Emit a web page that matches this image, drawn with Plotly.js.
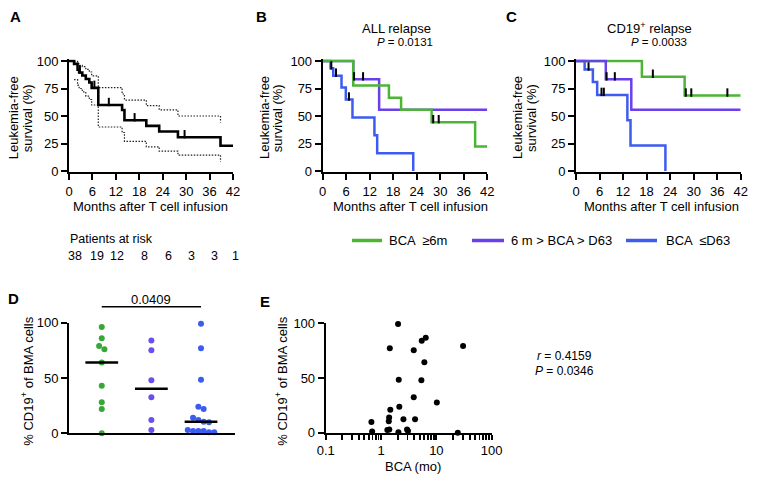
<!DOCTYPE html>
<html><head><meta charset="utf-8">
<script src="https://cdn.plot.ly/plotly-3.0.1.min.js"></script>
<style>html,body{margin:0;padding:0;background:#fff}</style>
</head><body><div id="chart" style="width:776px;height:483px"></div>
<script>
// ---------------- DATA ----------------
const monthTicks = [0, 6, 12, 18, 24, 30, 36, 42];
const survTicks = [0, 25, 50, 75, 100];
const pctTicks = [0, 50, 100];
const bcaMajorTicks = [0.1, 1, 10, 100];
const bcaMinorTicks = [0.2, 0.3, 0.4, 0.5, 0.6, 0.7, 0.8, 0.9, 2, 3, 4, 5, 6, 7, 8, 9, 20, 30, 40, 50, 60, 70, 80, 90];

// Panel A: all patients
const allTimes = [0, 1.3, 2.2, 2.6, 3.4, 4.3, 5.2, 5.8, 7.5, 13.6, 14.2, 19.8, 23.1, 27.9, 38.8];
const allSurv  = [100, 97.4, 92.1, 89.5, 86.8, 83.6, 80.4, 75.6, 60.0, 55.4, 46.1, 41.0, 35.9, 30.7, 23.0];
const allEnd = 42;
const allCensor = [2.8, 6.5, 10.2, 16.8, 29.6];
const allCITimes = [1.3, 2.2, 2.6, 3.4, 4.3, 5.2, 5.8, 7.5, 13.6, 14.2, 19.8, 23.1, 27.9, 38.8];
const allUpper   = [99.6, 97.5, 96.0, 94.8, 92.4, 90.0, 86.5, 75.8, 70.0, 64.5, 59.4, 55.5, 50.0, 44.0];
const allLower   = [83.0, 78.0, 75.0, 72.0, 68.0, 65.0, 60.0, 40.0, 35.0, 27.0, 22.0, 18.0, 14.5, 8.5];

const atRisk = [38, 19, 12, 8, 6, 3, 3, 1];

// Groups
const groupNames  = ['BCA  \u22656m', '6 m > BCA > D63', 'BCA  \u2264D63'];
const groupColors = ['#4cb534', '#6a40ec', '#3d5bef'];
const dotColors   = ['#35a835', '#6a4ff0', '#3b5cf0'];

// Panel B: ALL relapse
const bGreenTimes = [0, 7.8, 16.9, 20.0, 27.8, 38.9];
const bGreenSurv  = [100, 77.8, 66.7, 55.6, 44.4, 22.2];
const bGreenEnd = 42;
const bGreenCensor = [28.2, 29.6];
const bPurpleTimes = [0, 7.8, 14.4];
const bPurpleSurv  = [100, 83.3, 55.6];
const bPurpleEnd = 42;
const bPurpleCensor = [8.0, 10.3];
const bBlueTimes = [0, 2.0, 2.7, 4.8, 5.9, 7.6, 13.2, 13.9, 23.1];
const bBlueSurv  = [100, 93.3, 86.7, 76.0, 65.0, 48.7, 32.5, 16.2, 0];
const bBlueEnd = 23.1;
const bBlueCensor = [2.2, 3.4, 6.7];

// Panel C: CD19+ relapse
const cGreenTimes = [0, 16.8, 27.7];
const cGreenSurv  = [100, 85.7, 68.6];
const cGreenEnd = 42;
const cGreenCensor = [2.0, 7.6, 19.6, 28.0, 29.4, 38.6];
const cPurpleTimes = [0, 7.6, 14.1];
const cPurpleSurv  = [100, 83.3, 55.6];
const cPurpleEnd = 42;
const cPurpleCensor = [7.8, 9.9];
const cBlueTimes = [0, 2.2, 4.3, 5.4, 13.1, 13.9, 22.8];
const cBlueSurv  = [100, 92.3, 80.8, 69.2, 46.2, 23.1, 0];
const cBlueEnd = 22.8;
const cBlueCensor = [3.2, 6.5, 7.1];

// Panel D: % CD19+ of BMA cells by group
const dGreen  = [96, 86, 79, 76, 64, 43, 28, 22, 0];
const dPurple = [84, 75, 48, 32.5, 12, 3];
const dBlue   = [99, 77, 48.5, 24, 22, 14, 12, 10.5, 10, 3, 2, 2, 2, 1, 1];
const dPValue = '0.0409';

// Panel E: BCA (months) vs % CD19+
const eBCA  = [2.03, 1.44, 3.90, 5.44, 6.43, 30.4, 6.07, 2.09, 5.36, 3.90, 10.2, 2.14, 1.47, 1.40, 1.38, 2.54, 4.12, 0.67, 0.69, 1.30, 1.41, 2.06, 2.95, 3.07, 24.4];
const eCD19 = [99.4, 77.1, 75.3, 84.1, 86.9, 79.3, 64.3, 48.5, 47.9, 32.3, 27.7, 23.8, 21.0, 14.0, 10.4, 12.2, 12.2, 9.8, 1.2, 2.4, 3.0, 0.3, 3.0, 1.5, 0];
const eR = '0.4159', eP = '0.0346';

// ---------------- LAYOUT HELPERS ----------------
const W = 776, H = 483;
const FONT = 'Arial, "Liberation Sans", Helvetica, sans-serif';
function dom(pA, vA, pB, vB, lo, hi, total, invert) {
  const s = (pB - pA) / (vB - vA);
  const plo = pA + (lo - vA) * s, phi = pA + (hi - vA) * s;
  return invert ? [1 - plo / total, 1 - phi / total] : [plo / total, phi / total];
}
function stepAt(times, vals, t) { let v = vals[0]; for (let i = 0; i < times.length; i++) if (times[i] <= t) v = vals[i]; return v; }
function kmTrace(times, surv, end, color, xa, ya, width, dash) {
  const x = times.slice(), y = surv.slice();
  if (end > times[times.length - 1]) { x.push(end); y.push(surv[surv.length - 1]); }
  return {x, y, xaxis: xa, yaxis: ya, type: 'scatter', mode: 'lines', line: {shape: 'hv', color, width: width || 2.5, dash: dash || 'solid'}, hoverinfo: 'skip', showlegend: false};
}
const KM_PPU = 110 / 100; // pixels per % on KM plots
function censorTrace(ct, times, surv, xa, ya) {
  return {x: ct, y: ct.map(t => stepAt(times, surv, t) + 3 / KM_PPU), xaxis: xa, yaxis: ya, type: 'scatter', mode: 'markers',
    marker: {symbol: 'line-ns-open', size: 6, color: '#000', line: {width: 2, color: '#000'}}, cliponaxis: false, hoverinfo: 'skip', showlegend: false};
}
function beeswarm(vals, center, step, bin) {
  const idx = vals.map((v, i) => i).sort((a, b) => vals[b] - vals[a]);
  const xs = new Array(vals.length);
  let row = [];
  const flush = () => { row.forEach((k, j) => { xs[k] = center + (j - (row.length - 1) / 2) * step; }); row = []; };
  idx.forEach(k => { if (row.length && vals[row[0]] - vals[k] > bin) flush(); row.push(k); });
  flush();
  return xs;
}
function median(a) { const s = a.slice().sort((x, y) => x - y); const n = s.length; return n % 2 ? s[(n - 1) / 2] : (s[n / 2 - 1] + s[n / 2]) / 2; }

const traces = [];
// A
traces.push(kmTrace(allCITimes, allUpper, 0, '#222', 'x', 'y', 1.2, '1.5px,1.5px'));
traces.push(kmTrace(allCITimes, allLower, 0, '#222', 'x', 'y', 1.2, '1.5px,1.5px'));
traces.push(kmTrace(allTimes, allSurv, allEnd, '#000', 'x', 'y', 2.6));
traces.push(censorTrace(allCensor, allTimes, allSurv, 'x', 'y'));
// B
traces.push(kmTrace(bBlueTimes, bBlueSurv, bBlueEnd, groupColors[2], 'x2', 'y2'));
traces.push(kmTrace(bPurpleTimes, bPurpleSurv, bPurpleEnd, groupColors[1], 'x2', 'y2'));
traces.push(kmTrace(bGreenTimes, bGreenSurv, bGreenEnd, groupColors[0], 'x2', 'y2'));
traces.push(censorTrace(bBlueCensor, bBlueTimes, bBlueSurv, 'x2', 'y2'));
traces.push(censorTrace(bPurpleCensor, bPurpleTimes, bPurpleSurv, 'x2', 'y2'));
traces.push(censorTrace(bGreenCensor, bGreenTimes, bGreenSurv, 'x2', 'y2'));
// C
traces.push(kmTrace(cBlueTimes, cBlueSurv, cBlueEnd, groupColors[2], 'x3', 'y3'));
traces.push(kmTrace(cGreenTimes, cGreenSurv, cGreenEnd, groupColors[0], 'x3', 'y3'));
traces.push(kmTrace(cPurpleTimes, cPurpleSurv, cPurpleEnd, groupColors[1], 'x3', 'y3'));
traces.push(censorTrace(cBlueCensor, cBlueTimes, cBlueSurv, 'x3', 'y3'));
traces.push(censorTrace(cPurpleCensor, cPurpleTimes, cPurpleSurv, 'x3', 'y3'));
traces.push(censorTrace(cGreenCensor, cGreenTimes, cGreenSurv, 'x3', 'y3'));
// D
[dGreen, dPurple, dBlue].forEach((vals, g) => {
  const c = g + 1;
  traces.push({x: beeswarm(vals, c, 0.107, 5), y: vals, xaxis: 'x4', yaxis: 'y4', type: 'scatter', mode: 'markers',
    marker: {size: 6, color: dotColors[g]}, cliponaxis: false, hoverinfo: 'skip', showlegend: false});
  const m = median(vals);
  traces.push({x: [c - 0.33, c + 0.33], y: [m, m], xaxis: 'x4', yaxis: 'y4', type: 'scatter', mode: 'lines',
    line: {color: '#000', width: 2.5}, cliponaxis: false, hoverinfo: 'skip', showlegend: false});
});
// E
traces.push({x: eBCA, y: eCD19, xaxis: 'x5', yaxis: 'y5', type: 'scatter', mode: 'markers',
  marker: {size: 6, color: '#000'}, cliponaxis: false, hoverinfo: 'skip', showlegend: false});

// axes
const axBase = {showline: true, linewidth: 2, linecolor: '#000', ticks: 'outside', ticklen: 6, tickwidth: 2, tickcolor: '#000',
  showgrid: false, zeroline: false, tickfont: {family: FONT, size: 13, color: '#000'}, fixedrange: true};
const kmY = Object.assign({}, axBase, {range: [-1, 101.5], tickvals: survTicks, domain: dom(171, 0, 61, 100, -1, 101.5, H, true)});
const kmX = (p0, p1, ya) => Object.assign({}, axBase, {range: [0, 42], tickvals: monthTicks, anchor: ya, domain: [p0 / W, p1 / W]});
const eXDomain = [325.7 / W, 491.7 / W];
const eTickVals = bcaMajorTicks.concat(bcaMinorTicks);
const eTickText = bcaMajorTicks.map(String).concat(bcaMinorTicks.map(() => ''));

const layout = {
  width: W, height: H, margin: {l: 0, r: 0, t: 0, b: 0}, paper_bgcolor: '#fff', plot_bgcolor: 'rgba(0,0,0,0)',
  font: {family: FONT, size: 13, color: '#000'}, showlegend: false,
  xaxis: kmX(69, 233, 'y'),
  yaxis: Object.assign({}, kmY, {anchor: 'x'}),
  xaxis2: kmX(322.7, 487.3, 'y2'),
  yaxis2: Object.assign({}, kmY, {anchor: 'x2'}),
  xaxis3: kmX(576, 740.7, 'y3'),
  yaxis3: Object.assign({}, kmY, {anchor: 'x3'}),
  xaxis4: Object.assign({}, axBase, {range: [0.34, 3.685], domain: [69 / W, 235 / W], anchor: 'y4', ticks: '', showticklabels: false}),
  yaxis4: Object.assign({}, axBase, {range: [0, 100], tickvals: pctTicks, anchor: 'x4', domain: dom(433.3, 0, 322.7, 100, 0, 100, H, true)}),
  xaxis5: Object.assign({}, axBase, {type: 'log', range: [-1, 2], tickmode: 'array', tickvals: eTickVals, ticktext: eTickText, ticklen: 5,
    tickwidth: 1.8, anchor: 'y5', domain: eXDomain}),
  yaxis5: Object.assign({}, axBase, {range: [0, 100], tickvals: pctTicks, anchor: 'x5', domain: dom(432.7, 0, 323.3, 100, 0, 100, H, true)}),
  shapes: [], annotations: []
};

function ann(text, px, py, opts) {
  layout.annotations.push(Object.assign({text, x: px / W, y: 1 - py / H, xref: 'paper', yref: 'paper', showarrow: false,
    xanchor: 'center', yanchor: 'middle', font: {family: FONT, size: 13, color: '#000'}}, opts || {}));
}
// panel letters
[['A', 15.3, 16.7], ['B', 261, 16.7], ['C', 511.7, 16.7], ['D', 13.3, 298.7], ['E', 265.3, 301]].forEach(l =>
  ann('<b>' + l[0] + '</b>', l[1], l[2], {font: {family: FONT, size: 15, color: '#000'}}));
// KM titles
ann('ALL relapse', 397, 28.3);
ann('<i>P</i> = 0.0131', 405, 42.5, {font: {family: FONT, size: 11.5, color: '#000'}});
ann('CD19<sup>+</sup> relapse', 649, 28.3);
ann('<i>P</i> = 0.0033', 659, 42.5, {font: {family: FONT, size: 11.5, color: '#000'}});
// KM axis titles
[[14.3, 28.3, 150.8], [265, 278.3, 410], [518, 532, 661.7]].forEach(p => {
  ann('Leukemia-free', p[0], 118, {textangle: -90});
  ann('survival (%)', p[1], 118, {textangle: -90});
  ann('Months after T cell infusion', p[2], 206.7);
});
// patients at risk
ann('Patients at risk', 68.3, 239, {xanchor: 'left', font: {family: FONT, size: 12.5, color: '#000'}});
const riskX = [75, 96.7, 117, 144, 168, 191.7, 214, 236];
atRisk.forEach((n, i) => ann(String(n), riskX[i], 256, {font: {family: FONT, size: 12.5, color: '#000'}}));
// legend
const legLine = [[352, 382], [472, 504], [626, 657]];
const legText = [387, 509, 664];
groupNames.forEach((nm, i) => {
  layout.shapes.push({type: 'line', xref: 'paper', yref: 'paper', x0: legLine[i][0] / W, x1: legLine[i][1] / W, y0: 1 - 240.5 / H, y1: 1 - 240.5 / H,
    line: {color: groupColors[i], width: 3.5}});
  ann(nm, legText[i], 240.5, {xanchor: 'left'});
});
// D significance bar
layout.shapes.push({type: 'line', xref: 'x4', yref: 'paper', x0: 1, x1: 3, y0: 1 - 306.7 / H, y1: 1 - 306.7 / H, line: {color: '#000', width: 1.5}});
layout.annotations.push({text: dPValue, x: 2, xref: 'x4', y: 1 - 299 / H, yref: 'paper', showarrow: false, xanchor: 'center', yanchor: 'middle',
  font: {family: FONT, size: 13, color: '#000'}});
ann('% CD19<sup>+</sup> of BMA cells', 27, 381.7, {textangle: -90});
ann('% CD19<sup>+</sup> of BMA cells', 281, 381.7, {textangle: -90});
ann('BCA (mo)', 413.3, 466.7);
ann('<i>r</i> = ' + eR, 564.5, 356, {font: {family: FONT, size: 12, color: '#000'}});
ann('<i>P</i> = ' + eP, 564.7, 371.4, {font: {family: FONT, size: 12, color: '#000'}});

Plotly.newPlot('chart', traces, layout, {staticPlot: true, displayModeBar: false});
</script></body></html>
